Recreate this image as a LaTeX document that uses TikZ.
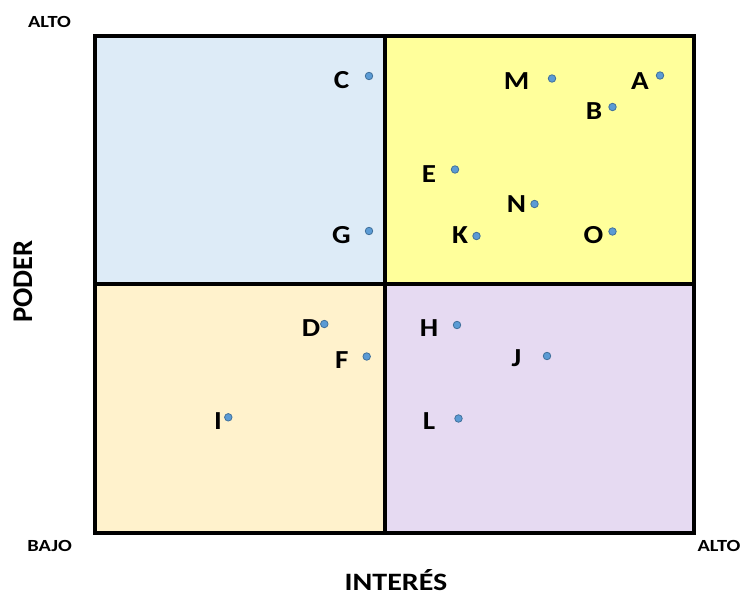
\documentclass[tikz,border=0pt]{standalone}
\usepackage{fontspec}
\setmainfont{Carlito}
\definecolor{qblue}{RGB}{221,235,247}
\definecolor{qyellow}{RGB}{255,255,155}
\definecolor{qpeach}{RGB}{255,242,204}
\definecolor{qlav}{RGB}{230,218,242}
\definecolor{dotfill}{RGB}{91,155,213}
\definecolor{dotline}{RGB}{65,113,156}
\newcommand{\wide}[1]{\scalebox{1.12}[1]{#1}}
\newcommand{\wider}[1]{\scalebox{1.2}[1]{#1}}
\begin{document}
\begin{tikzpicture}[x=1pt,y=-1pt,
  quad/.style={line width=4.5pt},
  pt/.style={circle,fill=dotfill,draw=dotline,line width=0.8pt,minimum size=7.5pt,inner sep=0pt},
  lab/.style={inner sep=0pt,font=\bfseries\fontsize{26}{26}\selectfont},
  axlab/.style={inner sep=0pt,font=\bfseries\fontsize{17}{17}\selectfont},
  axtitle/.style={inner sep=0pt,font=\bfseries\fontsize{28.5}{28.5}\selectfont},
  xtitle/.style={inner sep=0pt,font=\bfseries\fontsize{25}{25}\selectfont}]
\useasboundingbox (0,0) rectangle (741,594);
\fill[qblue] (95,36) rectangle (385,284);
\fill[qyellow] (385,36) rectangle (694,284);
\fill[qpeach] (95,284) rectangle (385,533);
\fill[qlav] (385,284) rectangle (694,533);
\draw[quad] (95,36) rectangle (694,533);
\draw[quad] (385,36) -- (385,533);
\draw[quad] (95,284) -- (694,284);
% points
\node[pt] (pC) at (369,76) {};
\node[pt] (pM) at (552,78.5) {};
\node[pt] (pA) at (660,75.5) {};
\node[pt] (pB) at (612.5,107) {};
\node[pt] (pE) at (455,169.5) {};
\node[pt] (pN) at (534.5,204) {};
\node[pt] (pG) at (369,231) {};
\node[pt] (pK) at (476.5,236) {};
\node[pt] (pO) at (612.5,231.5) {};
\node[pt] (pD) at (324.3,324) {};
\node[pt] (pH) at (457,325) {};
\node[pt] (pF) at (366.7,356.5) {};
\node[pt] (pJ) at (547,356) {};
\node[pt] (pI) at (228.3,417.3) {};
\node[pt] (pL) at (458.5,418.5) {};
% labels
\node[lab] (lC) at (341.5,80) {\wide{C}};
\node[lab] (lM) at (516.5,81) {\wide{M}};
\node[lab] (lA) at (640,81) {\wide{A}};
\node[lab] (lB) at (594,111.5) {\wide{B}};
\node[lab] (lE) at (429,174.5) {\wide{E}};
\node[lab] (lN) at (516.5,204) {\wide{N}};
\node[lab] (lG) at (341.5,235) {\wide{G}};
\node[lab] (lK) at (460,235) {\wide{K}};
\node[lab] (lO) at (593.5,235) {\wide{O}};
\node[lab] (lD) at (311,328) {\wide{D}};
\node[lab] (lH) at (429,328.5) {\wide{H}};
\node[lab] (lF) at (341.7,360.5) {\wide{F}};
\node[lab] (lJ) at (516.5,358.5) {\wide{J}};
\node[lab] (lI) at (218,421) {\wide{I}};
\node[lab] (lL) at (429,421) {\wide{L}};
% axis labels
\node[axlab] (altoY) at (49.5,22) {\wider{ALTO}};
\node[axlab] (bajo) at (49.7,546) {\wider{BAJO}};
\node[axlab] (altoX) at (719,546) {\wider{ALTO}};
\node[axtitle,rotate=90] (poder) at (23,281.7) {PODER};
\node[xtitle] (interes) at (396,580) {\wider{INTERÉS}};
\end{tikzpicture}
\end{document}
